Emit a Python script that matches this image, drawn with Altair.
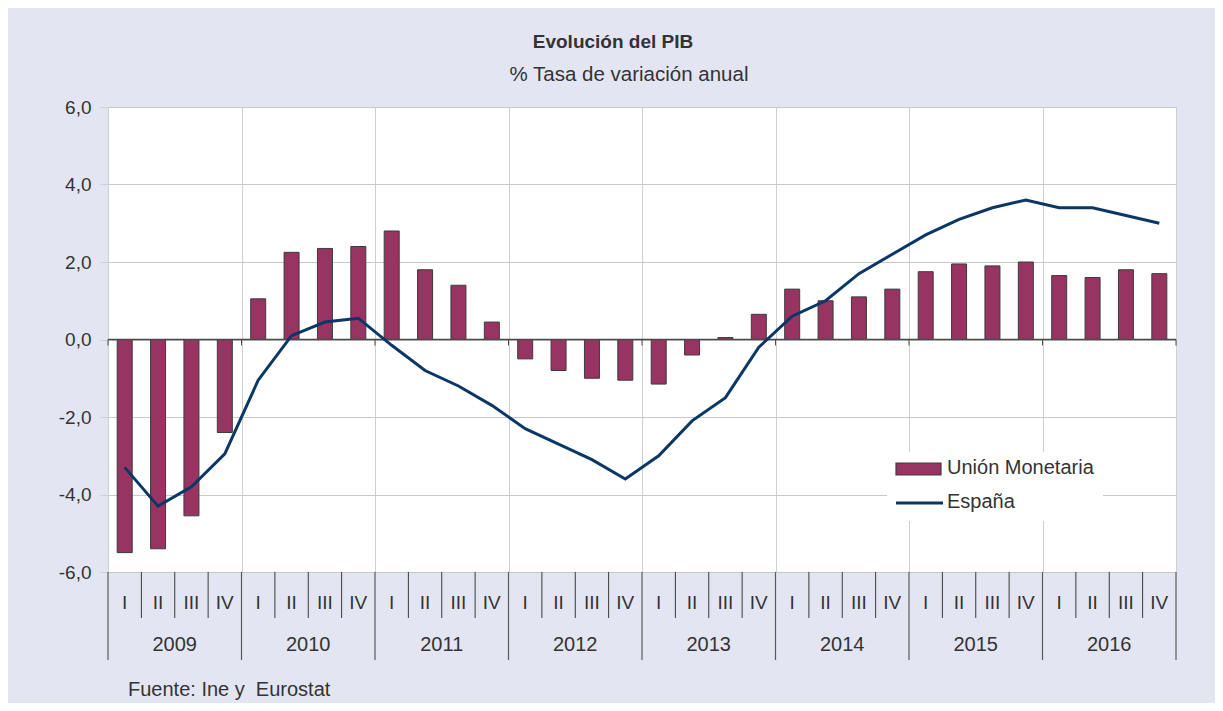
import altair as alt
import pandas as pd

# ---- data ----
years = [2009, 2010, 2011, 2012, 2013, 2014, 2015, 2016]
quarter_names = ["I", "II", "III", "IV"]
union = [-5.5, -5.4, -4.55, -2.4,
         1.05, 2.25, 2.35, 2.4,
         2.8, 1.8, 1.4, 0.45,
         -0.5, -0.8, -1.0, -1.05,
         -1.15, -0.4, 0.05, 0.65,
         1.3, 1.0, 1.1, 1.3,
         1.75, 1.95, 1.9, 2.0,
         1.65, 1.6, 1.8, 1.7]
spain = [-3.3, -4.3, -3.8, -2.95,
         -1.05, 0.1, 0.45, 0.55,
         -0.15, -0.8, -1.2, -1.7,
         -2.3, -2.7, -3.1, -3.6,
         -3.0, -2.1, -1.5, -0.2,
         0.6, 1.0, 1.7, 2.2,
         2.7, 3.1, 3.4, 3.6,
         3.4, 3.4, 3.2, 3.0]
y_ticks = [-6, -4, -2, 0, 2, 4, 6]
title_text = "Evolución del PIB"
subtitle_text = "% Tasa de variación anual"
source_text = "Fuente: Ine y\u00a0 Eurostat"
legend_labels = ["Unión Monetaria", "España"]

# ---- styling ----
W, H = 1068, 465
BG = "#E3E6F2"
BAR = "#973462"
LINE = "#0A3766"
TXT = "#333333"
FONT = "Liberation Sans"
FS = 19
FS2 = 20

n = len(union)
df = pd.DataFrame({
    "pos": [i + 0.5 for i in range(n)],
    "q": [quarter_names[i % 4] for i in range(n)],
    "union": union,
    "spain": spain,
})
years_df = pd.DataFrame({"year": [str(y) for y in years],
                         "mid": [i * 4 + 2 for i in range(len(years))]})
bounds_df = pd.DataFrame({"b": list(range(n + 1))})
bounds_df["year_edge"] = bounds_df["b"] % 4 == 0

xs = alt.Scale(domain=[0, n], nice=False, zero=False, padding=0)
ys = alt.Scale(domain=[-6, 6], nice=False, zero=False, padding=0)

label_expr = "(datum.value < 0 ? '-' : '') + replace(format(abs(datum.value), '.1f'), '.', ',')"

bars = alt.Chart(df).mark_bar(size=15, color=BAR, stroke="#3c3c3c", strokeWidth=1).encode(
    x=alt.X("pos:Q", scale=xs,
            axis=alt.Axis(values=list(range(0, n + 1, 4)), grid=True, gridColor="#cfcfcf",
                          labels=False, ticks=False, domain=False, title=None)),
    y=alt.Y("union:Q", scale=ys,
            axis=alt.Axis(values=y_ticks, grid=True, gridColor="#c8c8c8", tickColor="#d0d0d0",
                          tickSize=8, labelPadding=9, domain=False, title=None,
                          labelFont=FONT, labelFontSize=FS, labelColor=TXT,
                          labelExpr=label_expr)),
    y2=alt.datum(0),
)

legend_box = alt.Chart(pd.DataFrame({"a": [0]})).mark_rect(color="white").encode(
    x=alt.value(779), x2=alt.value(995), y=alt.value(345), y2=alt.value(414))

zero_line = alt.Chart(pd.DataFrame({"z": [0]})).mark_rule(color="#4a4a4a", strokeWidth=1.5).encode(
    y=alt.Y("z:Q", scale=ys))

zero_ticks = alt.Chart(bounds_df[bounds_df["year_edge"]]).mark_rule(color="#4a4a4a").encode(
    x=alt.X("b:Q", scale=xs), y=alt.value(H / 2), y2=alt.value(H / 2 + 6))

line = alt.Chart(df).mark_line(color=LINE, strokeWidth=3).encode(
    x=alt.X("pos:Q", scale=xs), y=alt.Y("spain:Q", scale=ys))

q_labels = alt.Chart(df).mark_text(font=FONT, fontSize=FS, color=TXT, baseline="middle").encode(
    x=alt.X("pos:Q", scale=xs), y=alt.value(H + 31), text="q:N")

y_labels = alt.Chart(years_df).mark_text(font=FONT, fontSize=FS2, color=TXT, baseline="middle").encode(
    x=alt.X("mid:Q", scale=xs), y=alt.value(H + 73), text="year:N")

q_seps = alt.Chart(bounds_df[~bounds_df["year_edge"]]).mark_rule(color="#3a3a3a").encode(
    x=alt.X("b:Q", scale=xs), y=alt.value(H), y2=alt.value(H + 46))
y_seps = alt.Chart(bounds_df[bounds_df["year_edge"]]).mark_rule(color="#5a5a5a", strokeWidth=1.2).encode(
    x=alt.X("b:Q", scale=xs), y=alt.value(H), y2=alt.value(H + 88))

one = pd.DataFrame({"a": [0]})
title = alt.Chart(one).mark_text(text=title_text, font=FONT, fontSize=19, fontWeight="bold",
                                 color=TXT, align="center", baseline="middle").encode(
    x=alt.value(505), y=alt.value(-65))
subtitle = alt.Chart(one).mark_text(text=subtitle_text, font=FONT, fontSize=20.5,
                                    color=TXT, align="center", baseline="middle").encode(
    x=alt.value(521), y=alt.value(-32))
source = alt.Chart(one).mark_text(text=source_text, font=FONT, fontSize=FS2, color=TXT,
                                  align="left", baseline="middle").encode(
    x=alt.value(20), y=alt.value(583))

leg_rect = alt.Chart(one).mark_rect(color=BAR, stroke="#3c3c3c", strokeWidth=1.2).encode(
    x=alt.value(788), x2=alt.value(833), y=alt.value(356), y2=alt.value(368))
leg_line = alt.Chart(one).mark_rule(color=LINE, strokeWidth=3).encode(
    x=alt.value(788), x2=alt.value(835), y=alt.value(396))
leg_t1 = alt.Chart(one).mark_text(text=legend_labels[0], font=FONT, fontSize=FS2, color=TXT,
                                  align="left", baseline="middle").encode(
    x=alt.value(839), y=alt.value(361))
leg_t2 = alt.Chart(one).mark_text(text=legend_labels[1], font=FONT, fontSize=FS2, color=TXT,
                                  align="left", baseline="middle").encode(
    x=alt.value(839), y=alt.value(395))

chart = alt.layer(
    bars, legend_box, zero_line, zero_ticks, line,
    q_seps, y_seps, q_labels, y_labels,
    title, subtitle, source,
    leg_rect, leg_line, leg_t1, leg_t2,
).properties(
    width=W, height=H,
    autosize=alt.AutoSizeParams(type="none"),
    padding={"left": 100, "top": 99, "right": 39, "bottom": 131},
    background=BG,
).configure_view(stroke=None, fill="white")

chart.save("out.html", embed_options={"renderer": "svg", "actions": False})
